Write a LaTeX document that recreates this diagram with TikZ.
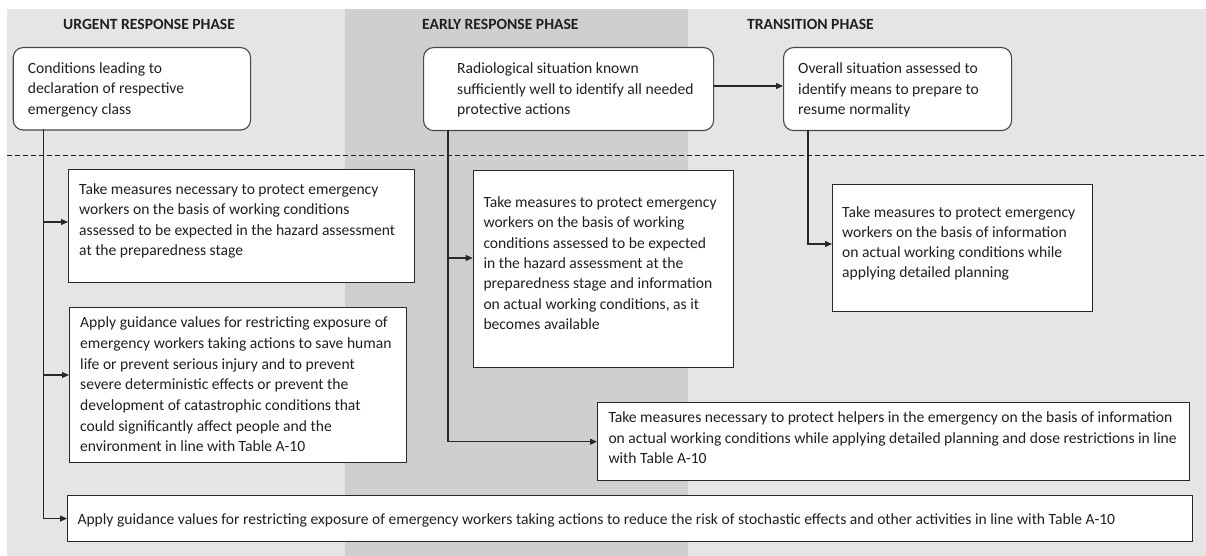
\documentclass[tikz,border=0pt]{standalone}
\usepackage{fontspec}
\setmainfont{Carlito}
\usetikzlibrary{arrows.meta}

\definecolor{bgpale}{RGB}{230,229,230}
\definecolor{bgband}{RGB}{208,206,207}
\definecolor{ink}{RGB}{32,32,32}
\definecolor{edge}{RGB}{40,40,40}

% first-line strut: puts the top of every text block 13pt above its first baseline
\newcommand\firstline{\rule{0pt}{13pt}}

\begin{document}
\begin{tikzpicture}[x=1pt,y=-1pt,
  body/.style={anchor=north west, inner sep=0pt, align=left, text=ink,
               font=\fontsize{15.6}{#1}\selectfont},
  body/.default=20.5,
  head/.style={anchor=base west, inner sep=0pt, text=ink,
               font=\fontsize{15.6}{18}\selectfont\bfseries},
  stage/.style={draw=edge!85, line width=1.1pt, fill=white, rounded corners=10pt,
                anchor=north west, inner sep=0pt},
  task/.style={draw=edge, line width=1.1pt, fill=white, anchor=north west, inner sep=0pt},
  flow/.style={draw=edge, line width=1.1pt, -{Triangle[length=7pt,width=6pt]}},
  divider/.style={draw=ink, line width=0.9pt, dash pattern=on 5pt off 3pt},
]

\useasboundingbox (0,0) rectangle (1206,556);

% phase backgrounds
\fill[bgpale] (7,9) rectangle (1206,556);
\fill[bgband] (345,9) rectangle (688,556);

% phase headings
\node[head] (hurgent) at (63,29.5) {URGENT RESPONSE PHASE};
\node[head] (hearly) at (422,29.5) {EARLY RESPONSE PHASE};
\node[head] (htrans) at (747,29.5) {TRANSITION PHASE};

% separator between triggering conditions and actions
\coordinate (sepL) at (7,155);
\coordinate (sepR) at (1206,155);
\draw[divider] (sepL) -- (sepR);

% triggering conditions (rounded)
\node[stage, minimum width=237.3pt, minimum height=82.5pt] (cond) at (12.7,47) {};
\node[body] (condt) at (27.7,60)
  {\firstline Conditions leading to\\declaration of respective\\emergency class};

\node[stage, minimum width=290pt, minimum height=83pt] (radio) at (423,47) {};
\node[body] (radiot) at (457,60.5)
  {\firstline Radiological situation known\\sufficiently well to identify all needed\\protective actions};

\node[stage, minimum width=228pt, minimum height=83pt] (overall) at (783,47) {};
\node[body] (overallt) at (798,60.5)
  {\firstline Overall situation assessed to\\identify means to prepare to\\resume normality};

% actions
\node[task, minimum width=346pt, minimum height=113pt] (ewprep) at (68,169) {};
\node[body] (ewprept) at (79,181)
  {\firstline Take measures necessary to protect emergency\\workers on the basis of working conditions\\assessed to be expected in the hazard assessment\\at the preparedness stage};

\node[task, minimum width=336.7pt, minimum height=155.3pt] (lifesave) at (69,306.7) {};
\node[body=20.7] (lifesavet) at (80,314.5)
  {\firstline Apply guidance values for restricting exposure of\\emergency workers taking actions to save human\\life or prevent serious injury and to prevent\\severe deterministic effects or prevent the\\development of catastrophic conditions that\\could significantly affect people and the\\environment in line with Table A-10};

\node[task, minimum width=260.3pt, minimum height=197pt] (ewearly) at (472.7,170) {};
\node[body=20.3] (ewearlyt) at (483.3,194.3)
  {\firstline Take measures to protect emergency\\workers on the basis of working\\conditions assessed to be expected\\in the hazard assessment at the\\preparedness stage and information\\on actual working conditions, as it\\becomes available};

\node[task, minimum width=260.3pt, minimum height=126.7pt] (ewtrans) at (832,184.3) {};
\node[body=20] (ewtranst) at (842,204.3)
  {\firstline Take measures to protect emergency\\workers on the basis of information\\on actual working conditions while\\applying detailed planning};

\node[task, minimum width=592pt, minimum height=77.7pt] (helpers) at (597,402.3) {};
\node[body] (helperst) at (608.3,409.3)
  {\firstline Take measures necessary to protect helpers in the emergency on the basis of information\\on actual working conditions while applying detailed planning and dose restrictions in line\\with Table A-10};

\node[task, minimum width=1125pt, minimum height=46pt] (stoch) at (67,495) {};
\node[body] (stocht) at (77.3,511.5)
  {\firstline Apply guidance values for restricting exposure of emergency workers taking actions to reduce the risk of stochastic effects and other activities in line with Table A-10};

% connectors
\coordinate (condfoot) at (43.3,129.5);
\coordinate (radiofoot) at (448,130);
\coordinate (overallfoot) at (808,130);

\draw[flow] (radio.east |- 0,86) -- (overall.west |- 0,86);

\draw[flow] (condfoot) |- (ewprep.west |- 0,222);
\draw[flow] (condfoot) |- (lifesave.west |- 0,375);
\draw[flow] (condfoot) |- (stoch.west);

\draw[flow] (radiofoot) |- (ewearly.west |- 0,258);
\draw[flow] (radiofoot) |- (helpers.west);

\draw[flow] (overallfoot) |- (ewtrans.west |- 0,244);

\end{tikzpicture}
\end{document}
